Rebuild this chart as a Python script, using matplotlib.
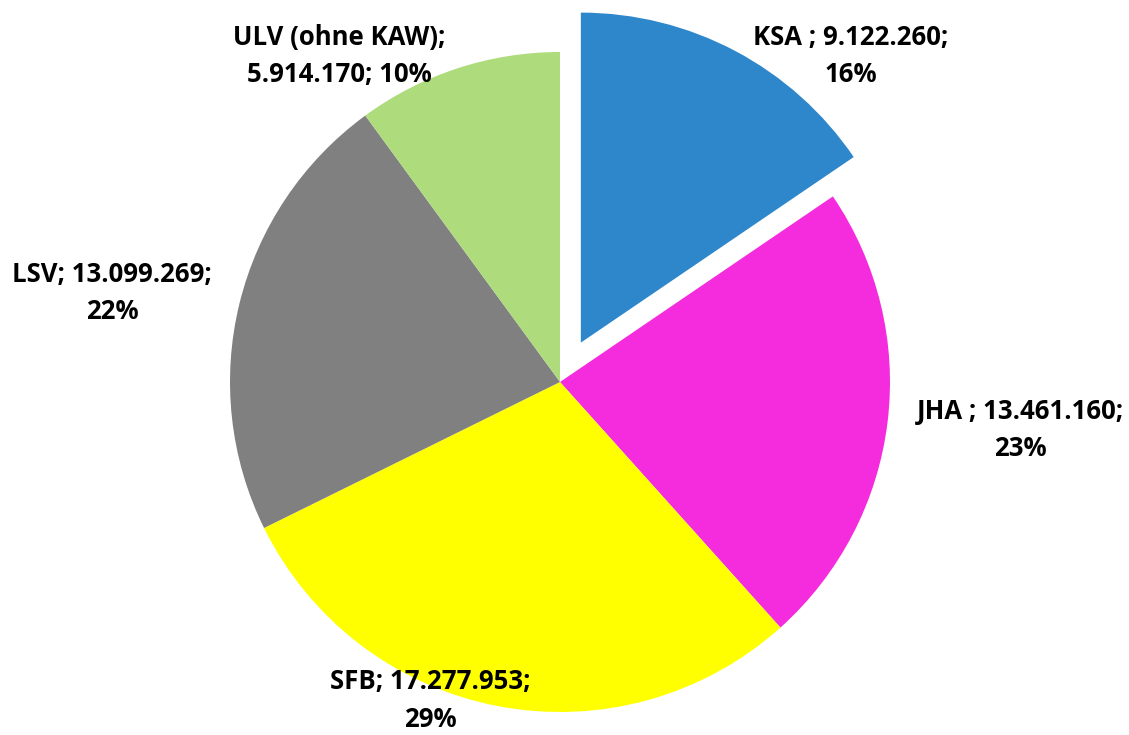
import matplotlib.pyplot as plt

# data
names = ["KSA ", "JHA ", "SFB", "LSV", "ULV (ohne KAW)"]
values = [9122260, 13461160, 17277953, 13099269, 5914170]
percents = ["16%", "23%", "29%", "22%", "10%"]
colors = ["#2E86CB", "#F52BDE", "#FFFF00", "#808080", "#AEDB7C"]
explode = [0.135, 0, 0, 0, 0]
# label centres (pie radius = 1, centre at 0,0)
label_xy = [(0.882, 0.988), (1.394, -0.145), (-0.394, -0.965), (-1.358, 0.270), (-0.668, 0.988)]

def fmt(v):
    return "{:,}".format(v).replace(",", ".")

labels = []
for n, v, p in zip(names, values, percents):
    if n.startswith("ULV"):
        labels.append(n + ";\n" + fmt(v) + "; " + p)
    else:
        labels.append(n + "; " + fmt(v) + ";\n" + p)

fig = plt.figure(figsize=(11.29, 7.35), dpi=100)
ax = fig.add_axes([0, 0, 1, 1])

ax.pie(values, colors=colors, explode=explode, startangle=90, counterclock=False,
       radius=1, wedgeprops=dict(linewidth=0))

for lab, (x, y) in zip(labels, label_xy):
    ax.text(x, y, lab, ha="center", va="center", fontsize=18.5, fontweight="bold",
            family="Open Sans", linespacing=1.5)

ax.set_xlim(-560 / 330, (1129 - 560) / 330)
ax.set_ylim(-(735 - 382) / 330, 382 / 330)
ax.set_aspect("equal")
ax.axis("off")

fig.savefig("out.png", dpi=100)
